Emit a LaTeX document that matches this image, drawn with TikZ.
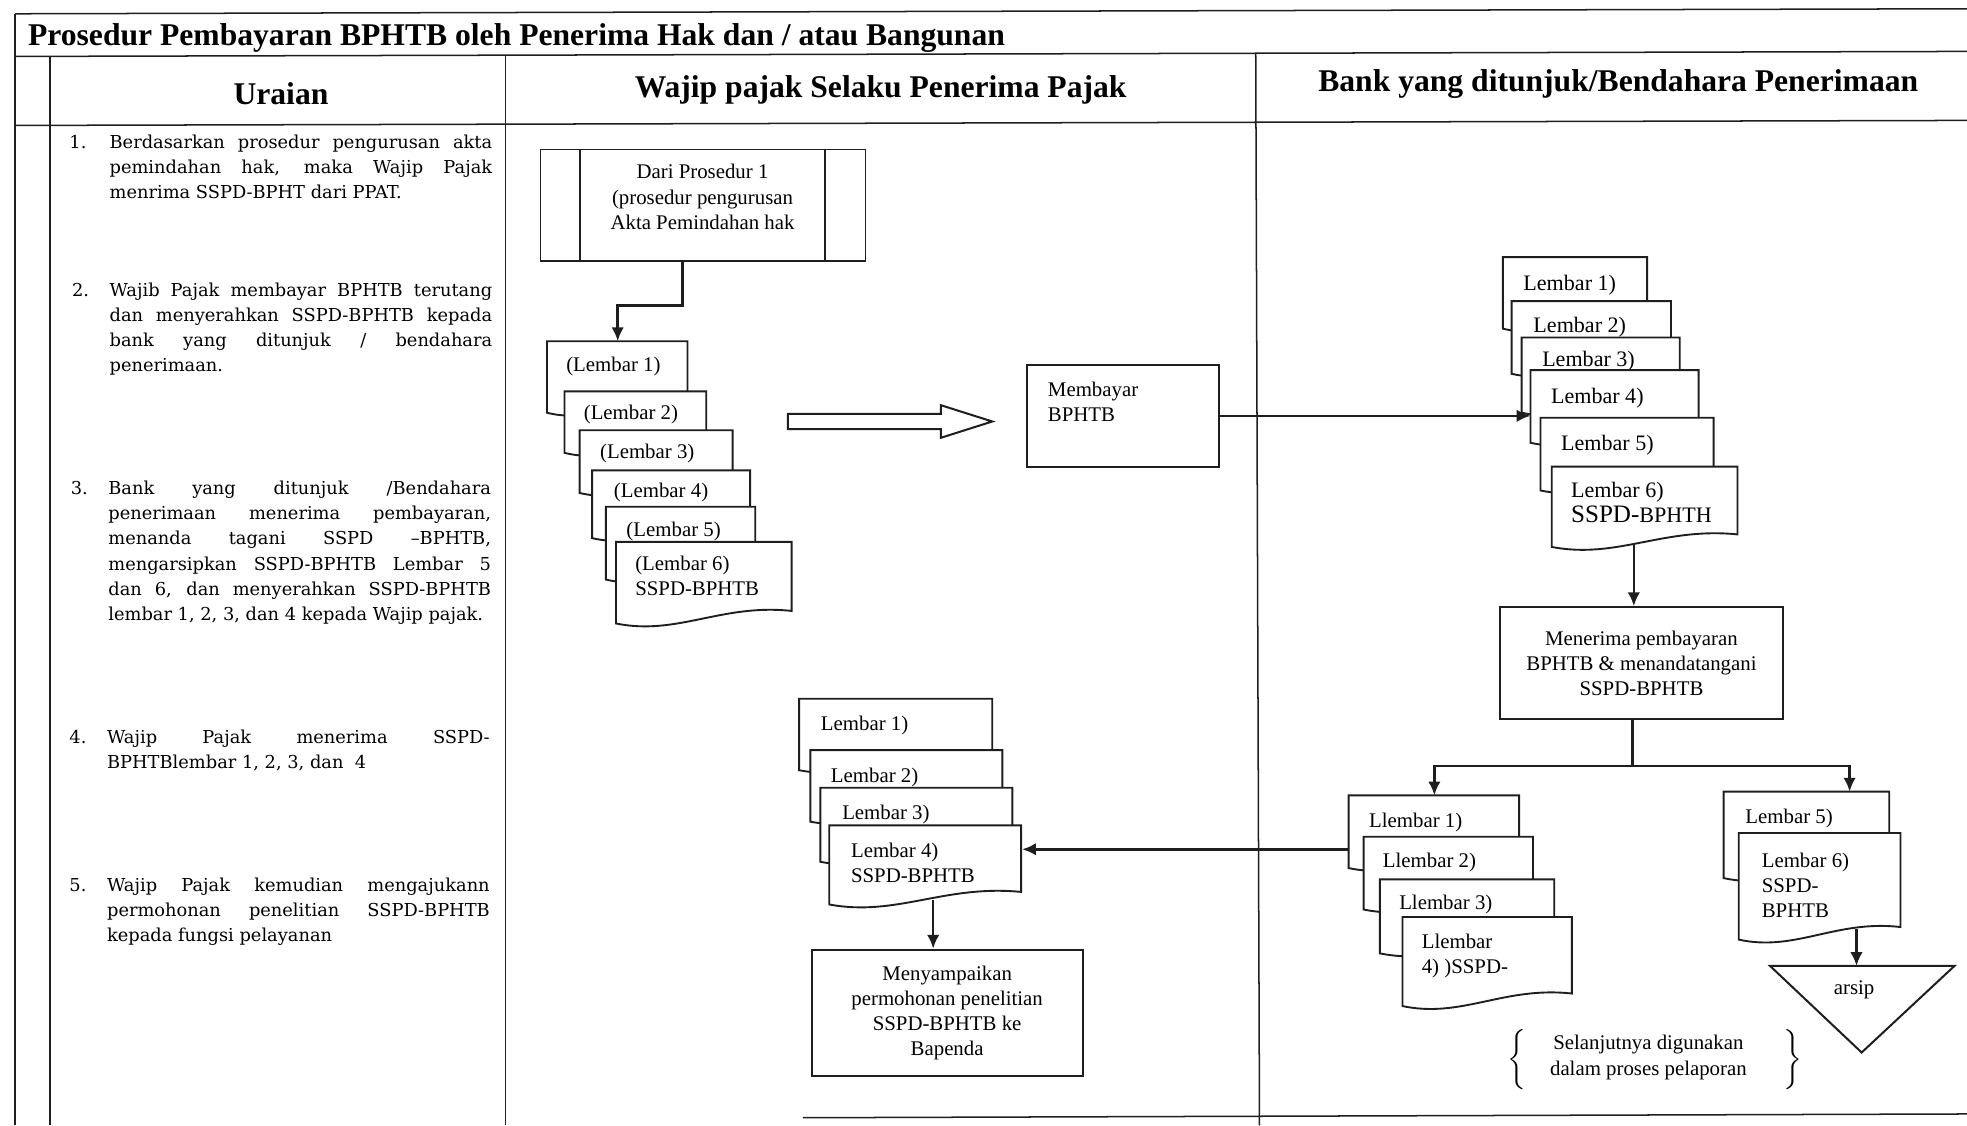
\documentclass[tikz,border=0pt]{standalone}
\usepackage{fontspec}
\setmainfont{Liberation Serif}
\newfontfamily\urfont{DejaVu Serif}
\usetikzlibrary{calc,arrows.meta}
\definecolor{ink}{HTML}{1E1E1E}
\tikzset{
  tbl/.style={line width=0.6pt, draw=ink},
  docline/.style={draw=ink, fill=white, line width=0.75pt},
  doctext/.style={inner sep=0pt, align=left, font=\fontsize{8.3}{10}\selectfont},
  rfont/.style={font=\fontsize{8.8}{10}\selectfont},
  box/.style={draw=ink, line width=0.8pt, fill=white, inner sep=0pt},
  boxtext/.style={align=center, font=\fontsize{8.3}{10}\selectfont, inner sep=0pt},
  conn/.style={draw=ink, line width=1pt, -{Latex[length=5.5pt,width=5pt]}},
  plainln/.style={draw=ink, line width=1pt},
  hdr/.style={font=\fontsize{12.6}{14}\selectfont\bfseries, inner sep=0pt},
  urtext/.style={inner sep=0pt, anchor=north west, text width=152.5pt, align=justify,
    font=\urfont\fontsize{7.1}{10}\selectfont,
    execute at begin node={\tolerance=10000\hyphenpenalty=10000\exhyphenpenalty=10000}},
  urnum/.style={inner sep=0pt, anchor=north west, font=\urfont\fontsize{7.1}{10}\selectfont},
}
% document shape: [style]{name}{x}{y}{w}{h}{text dx}{text baseline dy}{text}
\newcommand\docu[9][]{%
  \path[docline] (#3,#4) -- ({#3+#5},#4) -- ({#3+#5},{#4+#6-10})
     .. controls ({#3+0.6*#5},{#4+#6-16}) and ({#3+0.35*#5},{#4+#6+10}) .. (#3,{#4+#6}) -- cycle;
  \pgfmathsetmacro\dw{#5/2}\pgfmathsetmacro\dh{#6/2}%
  \node[inner sep=0pt, minimum width=\dw pt, minimum height=\dh pt, anchor=north west] (#2) at (#3,#4) {};
  \node[doctext,#1,anchor=north west] (#2t) at ({#3+#7},{#4+#8-14}) {\strut #9};
}
\begin{document}
\begin{tikzpicture}[x=0.5pt,y=-0.5pt]
\useasboundingbox (0,0) rectangle (1568,897);
% ---------- table ----------
\draw[tbl] (12,11) -- (1568,7);
\draw[tbl] (12,45) -- (1568,41);
\draw[tbl] (12,100) -- (1568,96);
\draw[tbl] (12,11) -- (12,897);
\draw[tbl] (40,45) -- (40,897);
\draw[tbl] (403,44) -- (403,897);
\draw[tbl] (1001,42) -- (1004,897);
\draw[tbl] (640,891) -- (1568,888);

\node[hdr, anchor=west] (title) at (22,30) {Prosedur Pembayaran BPHTB oleh Penerima Hak dan / atau Bangunan};
\node[hdr] (hU) at (224,75) {Uraian};
\node[hdr] (hW) at (702,72) {Wajip pajak Selaku Penerima Pajak};
\node[hdr] (hB) at (1290,67) {Bank yang ditunjuk/Bendahara Penerimaan};

% ---------- Uraian ----------
\node[urnum] (n1) at (55,104) {\strut 1.};
\node[urtext] (u1) at (87,104) {\strut Berdasarkan prosedur pengurusan akta\linebreak pemindahan hak, maka Wajip Pajak\linebreak menrima SSPD-BPHT dari PPAT.};
\node[urnum] (n2) at (57,222) {\strut 2.};
\node[urtext] (u2) at (87,222) {\strut Wajib Pajak membayar BPHTB terutang\linebreak dan menyerahkan SSPD-BPHTB kepada\linebreak bank yang ditunjuk / bendahara\linebreak penerimaan.};
\node[urnum] (n3) at (56,380) {\strut 3.};
\node[urtext] (u3) at (86,380) {\strut Bank yang ditunjuk /Bendahara\linebreak penerimaan menerima pembayaran,\linebreak menanda tagani SSPD –BPHTB,\linebreak mengarsipkan SSPD-BPHTB Lembar 5\linebreak dan 6, dan menyerahkan SSPD-BPHTB\linebreak lembar 1, 2, 3, dan 4 kepada Wajip pajak.};
\node[urnum] (n4) at (55,578) {\strut 4.};
\node[urtext] (u4) at (85,578) {\strut Wajip Pajak menerima SSPD-\linebreak BPHTBlembar 1, 2, 3, dan\ \ 4};
\node[urnum] (n5) at (55,696) {\strut 5.};
\node[urtext] (u5) at (85,696) {\strut Wajip Pajak kemudian mengajukann\linebreak permohonan penelitian SSPD-BPHTB\linebreak kepada fungsi pelayanan};

% ---------- Wajib pajak column ----------
\node[box, line width=0.6pt, minimum width=129.5pt, minimum height=44.5pt] (dari) at (560.5,163.5) {};
\draw[tbl] ($(dari.north west)+(32,0)$) -- ($(dari.south west)+(32,0)$);
\draw[tbl] ($(dari.north east)+(-33,0)$) -- ($(dari.south east)+(-33,0)$);
\node[boxtext] (darit) at (560,157) {Dari Prosedur 1\\(prosedur pengurusan\\Akta Pemindahan hak};

\docu{L1}{436}{272}{112}{57}{15}{24}{(Lembar 1)}
\docu{L2}{450}{312}{113}{49}{15}{22}{(Lembar 2)}
\docu{L3}{462}{343}{122}{50}{16}{22}{(Lembar 3)}
\docu{L4}{472}{375}{126}{54}{17}{21}{(Lembar 4)}
\docu{L5}{483}{404}{119}{58}{16}{23}{(Lembar 5)}
\docu{L6}{491}{432}{140}{65}{15}{22}{(Lembar 6)\\SSPD-BPHTB}

\draw[draw=ink, line width=0.8pt] (628,330) -- (750,330) -- (750,323) -- (791,336) -- (750,349) -- (750,342) -- (628,342) -- cycle;

\node[box, minimum width=76.5pt, minimum height=40.5pt] (mb) at (895.5,331.5) {};
\node[doctext, anchor=north west] (mbt) at (835,302) {\strut Membayar\\BPHTB};

\docu{M1}{637}{557}{154}{57}{17}{25}{Lembar 1)}
\docu{M2}{646}{598}{153}{57}{16}{25}{Lembar 2)}
\docu{M3}{654}{628}{153}{59}{17}{25}{Lembar 3)}
\docu{M4}{661}{658}{153}{63}{17}{25}{Lembar 4)\\SSPD-BPHTB}

\node[box, boxtext, minimum width=108pt, minimum height=50.5pt] (mny) at (755,807.5) {Menyampaikan\\permohonan penelitian\\SSPD-BPHTB ke\\Bapenda};

% ---------- Bank column ----------
\docu[rfont]{R1}{1198}{205}{115}{57}{16}{26}{Lembar 1)}
\docu[rfont]{R2}{1205}{240}{127}{58}{17}{25}{Lembar 2)}
\docu[rfont]{R3}{1213}{269}{126}{60}{16}{23}{Lembar 3)}
\docu[rfont]{R4}{1220}{295}{134}{58}{16}{26}{Lembar 4)}
\docu[rfont]{R5}{1228}{333}{138}{58}{16}{26}{Lembar 5)}
\docu[rfont]{R6}{1237}{372}{148}{64}{15}{24}{Lembar 6)\\{\fontsize{10}{10}\selectfont SSPD-}BPHTH}

\node[box, boxtext, minimum width=112.5pt, minimum height=44.5pt] (men) at (1308.5,528.5) {Menerima pembayaran\\BPHTB \& menandatangani\\SSPD-BPHTB};

\docu{B1}{1075}{634}{136}{58}{16}{25}{Llembar 1)}
\docu{B2}{1087}{667}{135}{58}{15}{24}{Llembar 2)}
\docu{B3}{1100}{701}{139}{59}{15}{24}{Llembar 3)}
\docu{B4}{1118}{731}{135}{71}{15}{25}{Llembar\\4) )SSPD-}

\docu{P5}{1374}{631}{132}{69}{17}{25}{Lembar 5)}
\docu{P6}{1386}{664}{129}{85}{18}{27}{Lembar 6)\\SSPD-\\BPHTB}

\draw[draw=ink, line width=0.8pt] (1411,770) -- (1558,770) -- (1484,839) -- cycle;
\coordinate (tritop) at (1480,770);
\node[boxtext] (arsip) at (1478,789) {arsip};

\node[boxtext] (brt) at (1314,843) {Selanjutnya digunakan\\dalam proses pelaporan};
\node[inner sep=0pt] (brl) at (1210,845) {$\left\{\vrule height 11pt depth 10pt width 0pt\right.$};
\node[inner sep=0pt] (brr) at (1428,845) {$\left.\vrule height 11pt depth 10pt width 0pt\right\}$};

% ---------- connectors ----------
\draw[conn, line width=1.2pt] ($(dari.south)+(-16.5,0)$) -- ++(0,35) -| (L1.north);
\draw[conn] (mb.east) -- (mb.east -| R4.west);
\coordinate (r6o) at ($(R6.south)+(-9,-4)$);
\draw[conn] (r6o) -- (r6o |- men.north);
\coordinate (sp) at ($(men.south)+(-7,37)$);
\draw[plainln] ($(men.south)+(-7,0)$) -- (sp);
\draw[conn] (sp) -| (B1.north);
\coordinate (p5in) at ($(P5.north)+(34,0)$);
\draw[conn] (sp) -| (p5in);
\coordinate (b1o) at ($(B1.north west)+(0,43)$);
\draw[conn] (b1o) -- (b1o -| M4.east);
\coordinate (m4o) at ($(M4.south)+(6,-4)$);
\draw[conn] (m4o) -- (m4o |- mny.north);
\coordinate (p6o) at ($(P6.south)+(29,-9)$);
\draw[conn] (p6o) -- (p6o |- tritop);
\end{tikzpicture}
\end{document}
